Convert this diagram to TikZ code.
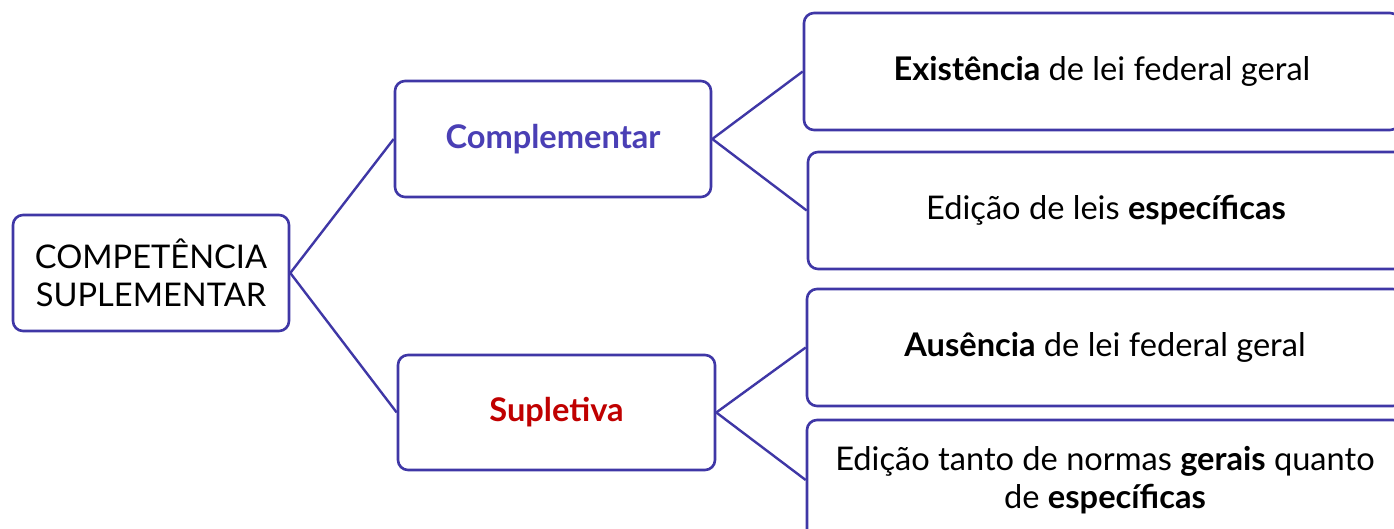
\documentclass[tikz,border=0pt]{standalone}
\usepackage{fontspec}
\setmainfont{Lato}
\definecolor{linec}{HTML}{3F37A6}
\definecolor{compc}{HTML}{4A3FB5}
\definecolor{supc}{HTML}{C00000}
\tikzset{
  box/.style={draw=linec, line width=1.3pt, rounded corners=5pt, fill=white, align=center, inner sep=0pt, font=\fontsize{16.3pt}{19pt}\selectfont},
  link/.style={draw=linec, line width=1.2pt}
}
\begin{document}
\begin{tikzpicture}[x=0.5pt,y=-0.5pt]
\clip (0,0) rectangle (1394,529);
\fill[white] (0,0) rectangle (1394,529);
\node[box, minimum width=138pt, minimum height=58pt] (root) at (151,273) {COMPETÊNCIA\\SUPLEMENTAR};
\node[box, minimum width=158pt, minimum height=58pt, text=compc] (comp) at (553,139) {\textbf{Complementar}};
\node[box, minimum width=158.5pt, minimum height=57.5pt, text=supc] (sup) at (556.5,412.5) {\textbf{Supletiva}};
\node[box, minimum width=298pt, minimum height=58.5pt] (b1) at (1102,71.5) {\textbf{Existência} de lei federal geral};
\node[box, minimum width=298pt, minimum height=58.5pt] (b2) at (1106,210.5) {Edição de leis \textbf{específicas}};
\node[box, minimum width=298pt, minimum height=58.5pt] (b3) at (1105,347.5) {\textbf{Ausência} de lei federal geral};
\node[box, minimum width=298pt, minimum height=60pt] (b4) at (1105,480) {Edição tanto de normas \textbf{gerais} quanto\\de \textbf{específicas}};
\draw[link] (root.east) -- (comp.west);
\draw[link] (root.east) -- (sup.west);
\draw[link] (comp.east) -- (b1.west);
\draw[link] (comp.east) -- (b2.west);
\draw[link] (sup.east) -- (b3.west);
\draw[link] (sup.east) -- (b4.west);
\end{tikzpicture}
\end{document}
